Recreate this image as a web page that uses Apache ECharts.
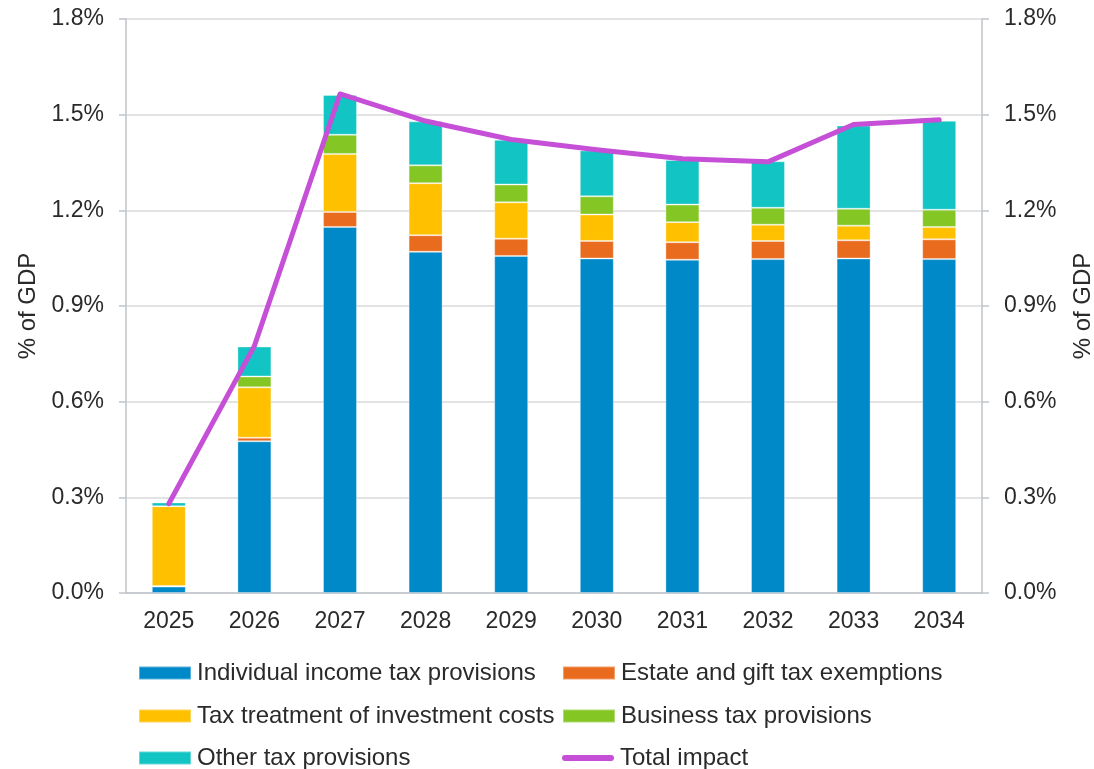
<!DOCTYPE html>
<html>
<head>
<meta charset="utf-8">
<script src="https://cdn.jsdelivr.net/npm/echarts@6/dist/echarts.min.js"></script>
<style>
html,body{margin:0;padding:0;background:#fff;}
#chart{width:1094px;height:769px;}
</style>
</head>
<body>
<div id="chart"></div>
<script>
var years = ['2025','2026','2027','2028','2029','2030','2031','2032','2033','2034'];
var individualIncome = [0.020, 0.476, 1.148, 1.070, 1.057, 1.049, 1.045, 1.047, 1.049, 1.047];
var estateGift      = [0.002, 0.011, 0.047, 0.052, 0.054, 0.055, 0.055, 0.057, 0.057, 0.062];
var investmentCosts = [0.250, 0.158, 0.182, 0.163, 0.114, 0.083, 0.063, 0.051, 0.046, 0.039];
var businessTax     = [0.000, 0.034, 0.060, 0.056, 0.056, 0.057, 0.055, 0.053, 0.053, 0.054];
var otherTax        = [0.012, 0.094, 0.125, 0.138, 0.140, 0.144, 0.140, 0.146, 0.261, 0.279];
var totalImpact     = [0.280, 0.775, 1.565, 1.480, 1.422, 1.390, 1.362, 1.352, 1.469, 1.484];
var yTicks = [0, 0.3, 0.6, 0.9, 1.2, 1.5, 1.8];

var FONT = "'Liberation Sans', Arial, sans-serif";
var TXT = '#2a2a2a';
var AXC = '#C0C4C9';

var names = ['Individual income tax provisions','Estate and gift tax exemptions','Tax treatment of investment costs','Business tax provisions','Other tax provisions','Total impact'];
var colors = ['#0089C8','#E96B1E','#FFC000','#84C624','#12C4C3','#C64FD7'];
var barData = [individualIncome, estateGift, investmentCosts, businessTax, otherTax];

var series = barData.map(function(d, i){
  return {
    name: names[i], type: 'bar', stack: 'tax', data: d, barWidth: 34,
    itemStyle: { color: colors[i], borderColor: 'rgba(255,255,255,0.35)', borderWidth: 1 },
    emphasis: { disabled: true }
  };
});
series.push({
  name: names[5], type: 'line', data: totalImpact, symbol: 'none', z: 10,
  lineStyle: { color: colors[5], width: 5, cap: 'round', join: 'round' },
  itemStyle: { color: colors[5] }
});

function lg(name, left, top, icon, h) {
  var o = {
    data: [icon ? {name: name, icon: icon} : name],
    left: left, top: top, padding: 0, itemWidth: 52, itemHeight: h || 13,
    icon: icon ? undefined : 'rect', selectedMode: false,
    textStyle: { fontFamily: FONT, fontSize: 24, color: TXT, lineHeight: 26, padding: [0,0,0,1] }
  };
  if (icon) { o.itemStyle = { color: colors[5], borderWidth: 0 }; o.lineStyle = { width: 0 }; }
  return o;
}

var yAxisBase = function(pos){
  return {
    type: 'value', position: pos, min: 0, max: 1.8, interval: 0.3,
    axisLine: { show: true, lineStyle: { color: AXC, width: 1.5 } },
    axisTick: { show: true, length: 7, lineStyle: { color: AXC, width: 1.5 } },
    axisLabel: { fontFamily: FONT, fontSize: 23, color: TXT, margin: 22,
      formatter: function(v){ return v.toFixed(1) + '%'; } },
    splitLine: { show: pos === 'left', lineStyle: { color: '#DADADA', width: 1.5 } },
    name: '% of GDP', nameLocation: 'middle', nameGap: pos === 'left' ? 86 : 89,
    nameTextStyle: { fontFamily: FONT, fontSize: 24, color: TXT }
  };
};

var chart = echarts.init(document.getElementById('chart'));
chart.setOption({
  animation: false,
  backgroundColor: '#fff',
  grid: { left: 126, right: 112, top: 19, bottom: 176, containLabel: false, outerBoundsMode: 'none' },
  xAxis: {
    type: 'category', data: years,
    axisLine: { show: true, lineStyle: { color: AXC, width: 1.5 } },
    axisTick: { show: false },
    axisLabel: { fontFamily: FONT, fontSize: 23, color: TXT, margin: 17 }
  },
  yAxis: [yAxisBase('left'), yAxisBase('right')],
  legend: [
    lg(names[0], 138, 660),
    lg(names[1], 562, 660),
    lg(names[2], 138, 703),
    lg(names[3], 562, 703),
    lg(names[4], 138, 745),
    lg(names[5], 562, 745, 'path://M3,0H49A3,3,0,0,1,49,6H3A3,3,0,0,1,3,0Z', 6)
  ],
  series: series
});
</script>
</body>
</html>
